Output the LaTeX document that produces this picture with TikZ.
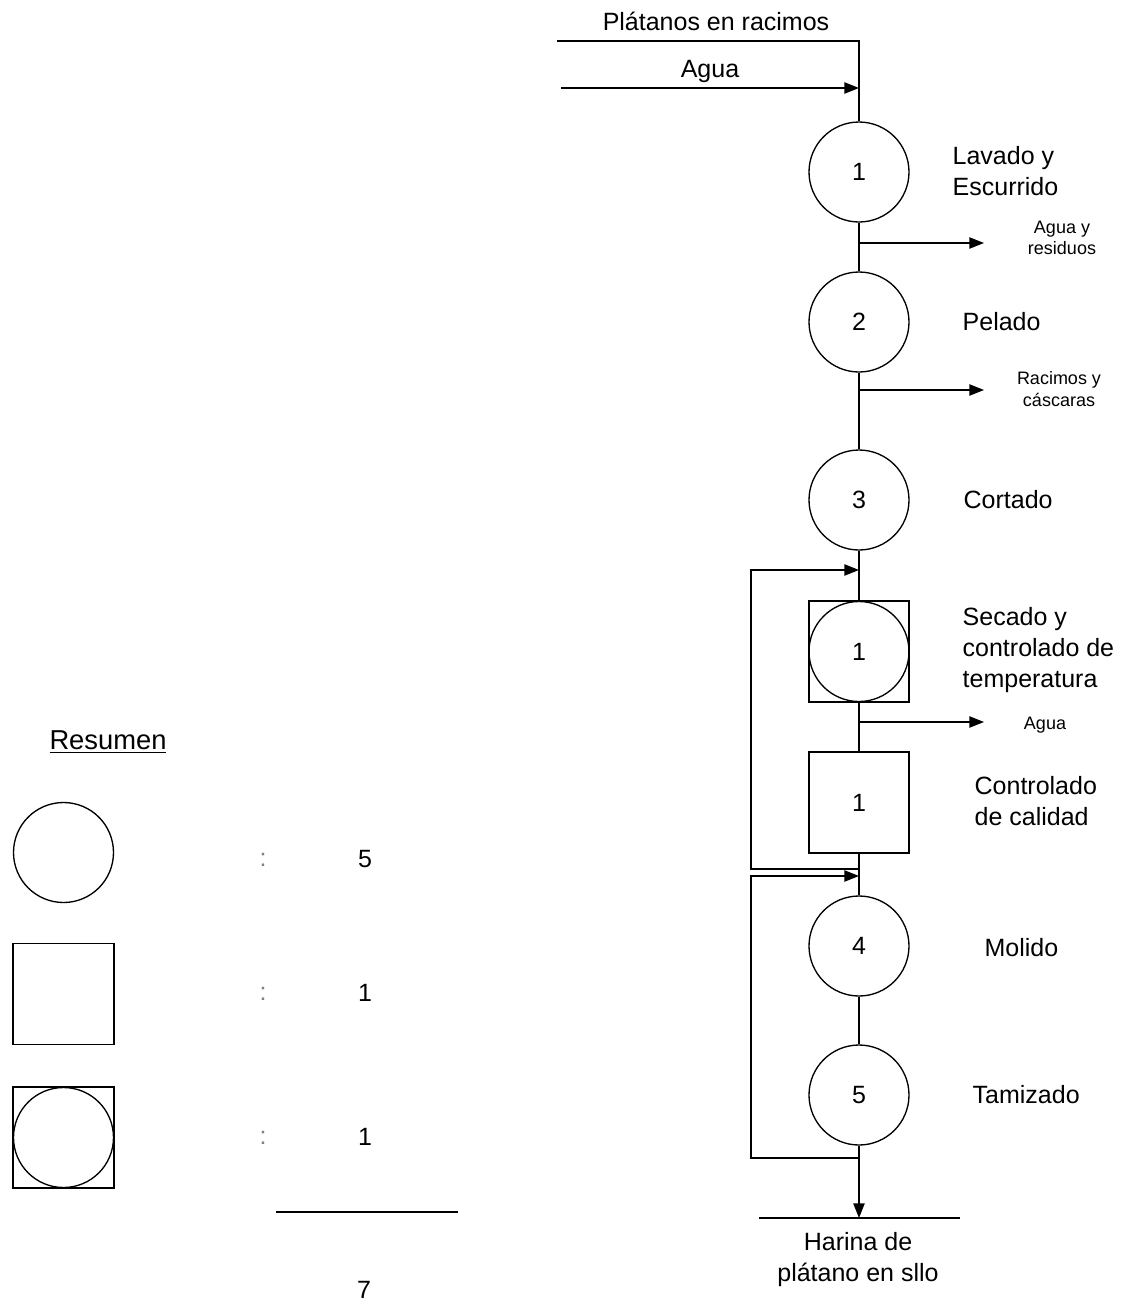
\documentclass[tikz,border=0pt]{standalone}
\usepackage{fontspec}
\setmainfont{Liberation Sans}
\usetikzlibrary{arrows.meta}
\newcommand\diagbig{\fontsize{18.75}{23.5}\selectfont}
\newcommand\diagsmall{\fontsize{13.5}{16}\selectfont}
\begin{document}
\begin{tikzpicture}[x=0.75pt,y=-0.75pt,line width=1pt,
  op/.style={draw,circle,minimum size=75pt,inner sep=0pt,font=\diagbig},
  insp/.style={draw,rectangle,minimum width=75pt,minimum height=75.75pt,inner sep=0pt,font=\diagbig},
  lbl/.style={anchor=west,align=left,font=\diagbig,inner sep=0pt},
  side/.style={align=center,font=\diagsmall,inner sep=0pt},
  txt/.style={align=center,font=\diagbig,inner sep=0pt},
  flow/.style={-{Triangle[length=11pt,width=8.5pt]}}]
\useasboundingbox (0,0) rectangle (1130,1304);

% ---- process column ----
\node[op] (c1) at (859,172) {1};
\node[op] (c2) at (859,322) {2};
\node[op] (c3) at (859,500) {3};
\node[insp] (sq) at (859,651.5) {};
\node[op] (sqc) at (859,651.5) {1};
\node[insp] (q) at (859,802.5) {1};
\node[op] (c4) at (859,946) {4};
\node[op] (c5) at (859,1095) {5};

% ---- step labels ----
\node[lbl] (l1) at (952,171) {Lavado y\\Escurrido};
\node[lbl] (l2) at (962,322) {Pelado};
\node[lbl] (l3) at (963,500) {Cortado};
\node[lbl] (l4) at (962,650) {Secado y\\controlado de\\temperatura};
\node[lbl] (l5) at (974,801) {Controlado\\de calidad};
\node[lbl] (l6) at (984,948) {Molido};
\node[lbl] (l7) at (972,1095) {Tamizado};

% ---- inputs ----
\coordinate (pin) at (557,41);
\coordinate (p1) at (859,41);
\coordinate (ain) at (561,88);
\coordinate (a1) at (859,88);
\node[txt] (tpl) at (716,21) {Plátanos en racimos};
\node[txt] (tag) at (710,71) {Agua};
\draw (pin) -- (p1) -- (c1.north);
\draw[flow] (ain) -- (a1);

% ---- main line ----
\draw (c1.south) -- (c2.north);
\draw (c2.south) -- (c3.north);
\draw (c3.south) -- (sq.north);
\draw (sq.south) -- (q.north);
\draw (q.south) -- (c4.north);
\draw (c4.south) -- (c5.north);

% ---- outputs ----
\coordinate (b1) at (859,243);
\coordinate (b1e) at (984,243);
\coordinate (b2) at (859,390);
\coordinate (b2e) at (984,390);
\coordinate (b3) at (859,722);
\coordinate (b3e) at (984,722);
\draw[flow] (b1) -- (b1e);
\draw[flow] (b2) -- (b2e);
\draw[flow] (b3) -- (b3e);
\node[side] (s1) at (1062,238) {Agua y\\residuos};
\node[side] (s2) at (1059,389) {Racimos y\\cáscaras};
\node[side] (s3) at (1045,725) {Agua};

% ---- recycle loops ----
\coordinate (lx) at (751,0);
\coordinate (r1top) at (859,570);
\coordinate (r1bot) at (859,869);
\coordinate (r2top) at (859,876);
\coordinate (r2bot) at (859,1158);
\draw[flow] (r1bot) -- (r1bot -| lx) |- (r1top);
\draw[flow] (r2bot) -- (r2bot -| lx) |- (r2top);

% ---- final product ----
\coordinate (out) at (859,1218);
\coordinate (base1) at (759,1218);
\coordinate (base2) at (960,1218);
\draw[flow] (c5.south) -- (out);
\draw (base1) -- (base2);
\node[txt,text depth=0pt] (prod) at (858,1257) {\baselineskip=29pt Harina de\\plátano en sllo};

% ---- summary ----
\node[align=center,inner sep=0pt,font=\fontsize{20.5}{24}\selectfont] (res) at (108,742) {\underline{Resumen}};
\node[draw,circle,minimum size=75pt,inner sep=0pt] (k1) at (63.5,852.5) {};
\node[draw,rectangle,minimum width=75.75pt,minimum height=75.75pt,inner sep=0pt] (k2) at (63.5,994) {};
\node[draw,rectangle,minimum width=75.75pt,minimum height=75.75pt,inner sep=0pt] (k3) at (63.5,1137.5) {};
\node[draw,circle,minimum size=75pt,inner sep=0pt] (k3c) at (63.5,1137.5) {};
\node[txt,text=gray] (d1) at (263,860) {:};
\node[txt,text=gray] (d2) at (263,994) {:};
\node[txt,text=gray] (d3) at (263,1138) {:};
\node[txt] (n1) at (365,859) {5};
\node[txt] (n2) at (365,993) {1};
\node[txt] (n3) at (365,1137) {1};
\coordinate (t1) at (276,1212);
\coordinate (t2) at (458,1212);
\draw (t1) -- (t2);
\node[txt] (tot) at (364,1290) {7};
\end{tikzpicture}
\end{document}
